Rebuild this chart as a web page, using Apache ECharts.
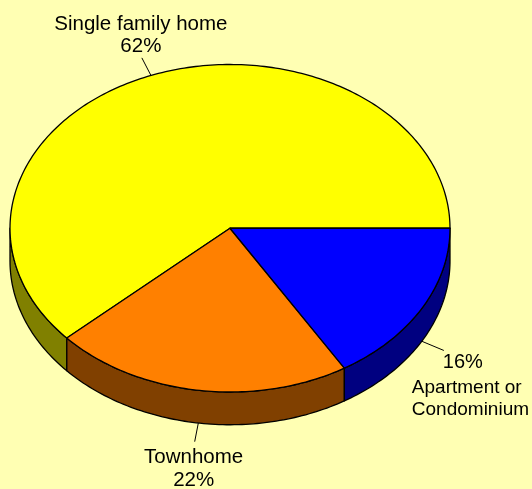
<!DOCTYPE html>
<html>
<head>
<meta charset="utf-8">
<title>Home type</title>
<script src="https://cdn.jsdelivr.net/npm/echarts@6/dist/echarts.min.js"></script>
<style>
  html, body { margin: 0; padding: 0; background: #ffffb3; }
  #chart { width: 532px; height: 489px; }
</style>
</head>
<body>
<div id="chart"></div>
<script>
const categories = ['Single family home', 'Townhome', 'Apartment or Condominium'];
const shares = [61.7, 22, 16.3];

const topColors = ['#ffff00', '#ff8000', '#0000ff'];
const wallColors = ['#808000', '#804000', '#000080'];

// pie is a unit circle on the two value axes, the grid squashes it to an ellipse
const DEPTH = 0.2;
const LEADER_IN = 1;
const LEADER_OUT = 1.115;
const FONT = '"Liberation Sans", Arial, sans-serif';

// one entry per slice, offsets from the outer end of the leader line
const labelLines = [
  [
    { text: 'Single family home', dx: -1, dy: -34, size: 20.5, align: 'center' },
    { text: '62%', dx: -1, dy: -12, size: 20.5, align: 'center' },
  ],
  [
    { text: 'Townhome', dx: -1, dy: 16, size: 20.5, align: 'center' },
    { text: '22%', dx: -1, dy: 39, size: 20.5, align: 'center' },
  ],
  [
    { text: '16%', dx: 19, dy: 12, size: 20, align: 'center' },
    { text: 'Apartment or', dx: -32, dy: 37, size: 19, align: 'left' },
    { text: 'Condominium', dx: -32, dy: 59, size: 19, align: 'left' },
  ],
];

const total = shares.reduce((a, b) => a + b, 0);
const sliceAngle = i => {
  const before = shares.slice(0, i).reduce((a, b) => a + b, 0);
  return {
    start: (before / total) * 360,
    end: ((before + shares[i]) / total) * 360,
  };
};

const rimPoint = (deg, radius, drop) => {
  const rad = (deg * Math.PI) / 180;
  return [radius * Math.cos(rad), radius * Math.sin(rad) - drop];
};

const arc = (from, to, drop, api) => {
  const pts = [];
  for (let a = from; a < to; a += 1) {
    pts.push(api.coord(rimPoint(a, 1, drop)));
  }
  pts.push(api.coord(rimPoint(to, 1, drop)));
  return pts;
};

const renderWall = (params, api) => {
  const { start, end } = sliceAngle(params.dataIndex);
  const from = Math.max(start, 180);
  if (end <= from) return null;
  const points = arc(from, end, 0, api).concat(arc(from, end, DEPTH, api).reverse());
  return {
    type: 'polygon',
    shape: { points },
    style: {
      fill: wallColors[params.dataIndex],
      stroke: '#000',
      lineWidth: 1.3,
      lineJoin: 'round',
    },
  };
};

const renderTop = (params, api) => {
  const { start, end } = sliceAngle(params.dataIndex);
  const points = [api.coord([0, 0])].concat(arc(start, end, 0, api));
  return {
    type: 'polygon',
    shape: { points },
    style: {
      fill: topColors[params.dataIndex],
      stroke: '#000',
      lineWidth: 1.3,
      lineJoin: 'round',
    },
  };
};

const renderLabel = (params, api) => {
  const { start, end } = sliceAngle(params.dataIndex);
  const mid = (start + end) / 2;
  const drop = mid > 180 ? DEPTH : 0;
  const inner = api.coord(rimPoint(mid, LEADER_IN, drop));
  const outer = api.coord(rimPoint(mid, LEADER_OUT, drop));
  const children = [
    {
      type: 'line',
      shape: { x1: inner[0], y1: inner[1], x2: outer[0], y2: outer[1] },
      style: { stroke: '#000', lineWidth: 1 },
    },
  ];
  labelLines[params.dataIndex].forEach(line => {
    children.push({
      type: 'text',
      style: {
        text: line.text,
        x: outer[0] + line.dx,
        y: outer[1] + line.dy,
        fill: '#000',
        font: `${line.size}px ${FONT}`,
        align: line.align,
        verticalAlign: 'middle',
      },
    });
  });
  return { type: 'group', children };
};

const seriesData = shares.map((value, i) => ({ name: categories[i], value }));

const chart = echarts.init(document.getElementById('chart'), null, { renderer: 'canvas' });

chart.setOption({
  animation: false,
  backgroundColor: '#ffffb3',
  grid: { left: 10, top: 64.5, width: 440, height: 327.5 },
  xAxis: { type: 'value', min: -1, max: 1, show: false },
  yAxis: { type: 'value', min: -1, max: 1, show: false },
  series: [
    { type: 'custom', coordinateSystem: 'cartesian2d', clip: false, silent: true, data: seriesData, renderItem: renderLabel, z: 1 },
    { type: 'custom', coordinateSystem: 'cartesian2d', clip: false, silent: true, data: seriesData, renderItem: renderWall, z: 2 },
    { type: 'custom', coordinateSystem: 'cartesian2d', clip: false, silent: true, data: seriesData, renderItem: renderTop, z: 3 },
  ],
});
</script>
</body>
</html>
